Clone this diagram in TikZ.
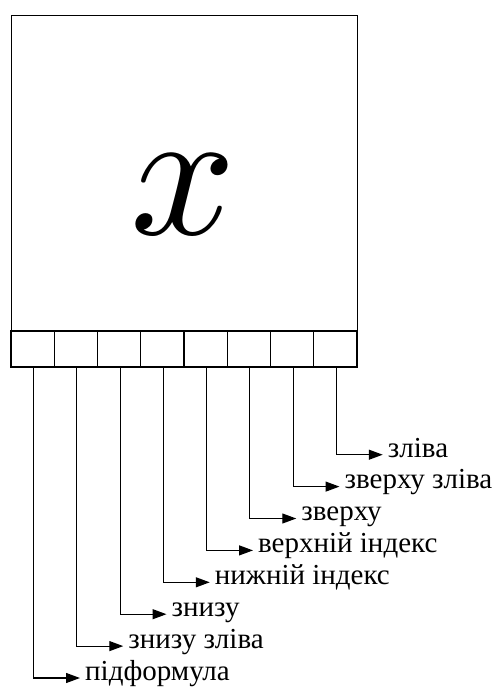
\documentclass[tikz,border=0pt]{standalone}
\usepackage{fontspec}
\setmainfont{Liberation Serif}
\usetikzlibrary{arrows.meta, positioning}

\tikzset{
  cell/.style={draw, line width=1.2pt, minimum width=43.25pt, minimum height=36pt,
    inner sep=0pt, outer sep=0pt, anchor=north west},
  part/.style={anchor=mid west, inner sep=5pt, font=\fontsize{29}{32}\selectfont},
  link/.style={line width=1.2pt, -{Triangle[length=14pt,width=10pt]}},
}

\begin{document}
\begin{tikzpicture}[x=1pt, y=-1pt]
    \useasboundingbox (0,0) rectangle (502,696);
    \node[draw, line width=1.4pt, minimum width=346pt, minimum height=316pt,
      inner sep=0pt, anchor=north west] (frame) at (11,15) {};
    \node[scale=18.5] (sym) at (183,195) {$x$};
    % the eight slots under the box, each with its own arrow
    \foreach \i/\txt in {1/підформула, 2/знизу зліва, 3/знизу, 4/нижній індекс,
        5/верхній індекс, 6/зверху, 7/зверху зліва, 8/зліва} {
      \node[cell] (c\i) at ({11+43.25*(\i-1)},331) {};
      \node[part] (l\i) at ({34+43.25*(\i-1)+46},{678-31.9*(\i-1)}) {\txt};
      \draw[link] ([xshift=1pt]c\i.south) |- (l\i.mid west);
    }
\end{tikzpicture}
\end{document}
